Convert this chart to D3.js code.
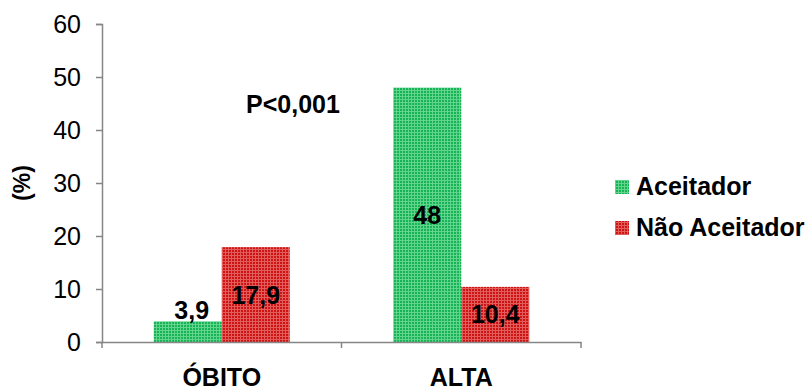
<!DOCTYPE html>
<html><head><meta charset="utf-8">
<script src="https://cdn.jsdelivr.net/npm/d3@7"></script>
<style>body{margin:0;background:#fff}svg{display:block}text{font-family:"Liberation Sans",Arial,sans-serif}</style>
</head><body>
<svg id="c" width="808" height="389"></svg>
<script>
const categories = ["ÓBITO", "ALTA"];
const seriesNames = ["Aceitador", "Não Aceitador"];
const aceitador = [3.9, 48];
const naoAceitador = [17.9, 10.4];
const valueLabels = [["3,9", "48"], ["17,9", "10,4"]];
const yTicks = [0, 10, 20, 30, 40, 50, 60];
const annotation = "P<0,001";

(function () {
const FF = "'Liberation Sans',Arial,sans-serif";
const FS = 25;
const svg = d3.select("#c");
const mLeft = 102, mRight = 581, mTop = 24, mBottom = 342;
const x = d3.scaleBand().domain(categories).range([mLeft, mRight]).paddingInner(0).paddingOuter(0);
const y = d3.scaleLinear().domain([0, 60]).range([mBottom, mTop]);
const barW = 68;

const defs = svg.append("defs");
function pat(id, base, line) {
  const p = defs.append("pattern").attr("id", id).attr("patternUnits", "userSpaceOnUse")
    .attr("width", 3).attr("height", 3);
  p.append("rect").attr("width", 3).attr("height", 3).attr("fill", base);
  p.append("rect").attr("width", 3).attr("height", 1).attr("fill", line);
  p.append("rect").attr("width", 1).attr("height", 3).attr("fill", line);
}
pat("pg", "#16b455", "#62d48e");
pat("pr", "#cc1414", "#e25c5c");
const fills = ["url(#pg)", "url(#pr)"];
const series = [aceitador, naoAceitador];

series.forEach((vals, s) => {
  svg.append("g").selectAll("rect").data(categories).join("rect")
    .attr("x", (d) => x(d) + x.bandwidth() / 2 - barW + s * barW)
    .attr("width", barW)
    .attr("y", (d, i) => y(vals[i]))
    .attr("height", (d, i) => y(0) - y(vals[i]))
    .attr("fill", fills[s]);
});

series.forEach((vals, s) => {
  svg.append("g").selectAll("text").data(categories).join("text")
    .attr("x", (d, i) => x(d) + x.bandwidth() / 2 - barW / 2 + s * barW + ((y(0) - y(vals[i])) < 26 ? 4 : 0))
    .attr("y", (d, i) => {
      const h = y(0) - y(vals[i]);
      if (h < 26) return y(vals[i]) - 2;
      return (y(vals[i]) + y(0)) / 2 + 9;
    })
    .attr("text-anchor", "middle").attr("font-size", FS).attr("font-weight", "bold").attr("fill", "#000")
    .attr("font-family", FF)
    .text((d, i) => valueLabels[s][i]);
});

const ya = svg.append("g").attr("transform", `translate(${mLeft},0)`)
  .call(d3.axisLeft(y).tickValues(yTicks).tickSize(6).tickPadding(15).tickFormat(d3.format("d")));
ya.select(".domain").attr("stroke", "#868686").attr("stroke-width", 1.5);
ya.selectAll(".tick line").attr("stroke", "#868686").attr("stroke-width", 1.5);
ya.selectAll(".tick text").attr("font-size", FS).attr("fill", "#000").attr("font-family", FF);

const xa = svg.append("g").attr("transform", `translate(0,${mBottom})`)
  .call(d3.axisBottom(x).tickSize(0).tickPadding(26));
xa.select(".domain").attr("stroke", "#868686").attr("stroke-width", 1.5);
xa.selectAll(".tick text").attr("font-size", FS).attr("font-weight", "bold").attr("fill", "#000")
  .attr("font-family", FF);
const seps = [mLeft, x(categories[1]), mRight];
svg.append("g").selectAll("line").data(seps).join("line")
  .attr("x1", d => d).attr("x2", d => d).attr("y1", mBottom).attr("y2", mBottom + 6)
  .attr("stroke", "#868686").attr("stroke-width", 1.5);

svg.append("text").attr("transform", "translate(30,183) rotate(-90)")
  .attr("text-anchor", "middle").attr("font-size", 23).attr("font-weight", "bold")
  .attr("font-family", FF).text("(%)");

svg.append("text").attr("x", 293).attr("y", 113).attr("text-anchor", "middle")
  .attr("font-size", FS).attr("font-weight", "bold").attr("font-family", FF).text(annotation);

const lg = svg.append("g");
seriesNames.forEach((n, i) => {
  lg.append("rect").attr("x", 615).attr("y", 180 + i * 41).attr("width", 14).attr("height", 14).attr("fill", fills[i]);
  lg.append("text").attr("x", 636).attr("y", 195 + i * 41).attr("font-size", FS).attr("font-weight", "bold")
    .attr("font-family", FF).text(n);
});
})();
</script>
</body></html>
